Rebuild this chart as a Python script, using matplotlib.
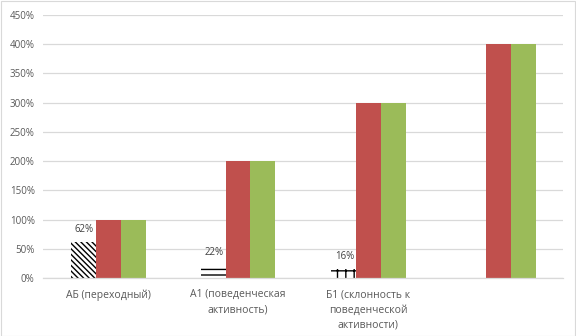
import matplotlib
matplotlib.use("Agg")
import matplotlib.pyplot as plt
import numpy as np

categories = ["АБ (переходный)", "А1 (поведенческая\nактивность)",
              "Б1 (склонность к\nповеденческой\nактивности)", ""]
series_pattern = [0.62, 0.22, 0.16, 0.0]
series_red = [1.0, 2.0, 3.0, 4.0]
series_green = [1.0, 2.0, 3.0, 4.0]
pattern_labels = ["62%", "22%", "16%", ""]
yticks = [0, 0.5, 1.0, 1.5, 2.0, 2.5, 3.0, 3.5, 4.0, 4.5]

plt.rcParams['font.family'] = ['Open Sans', 'DejaVu Sans']
plt.rcParams['hatch.linewidth'] = 1.0

fig = plt.figure(figsize=(5.76, 3.36), dpi=100)
ax = fig.add_axes([43/576, 1-278/336, 520/576, 263/336])

x = np.arange(len(categories))
w = 25/130
hatches = ['\\' * 6, '---', '++', '']
for i, v in enumerate(series_pattern):
    if v > 0:
        ax.bar(x[i] - w, v, w, facecolor='white', edgecolor='black',
               hatch=hatches[i], linewidth=0)
        ax.annotate(pattern_labels[i], (x[i] - w, v), xytext=(1, 5),
                    textcoords='offset points', ha='center', va='bottom',
                    fontsize=7, color='#404040')
ax.bar(x, series_red, w, color='#C0504D', linewidth=0)
ax.bar(x + w, series_green, w, color='#9BBB59', linewidth=0)

ax.set_xlim(-0.5, 3.5)
ax.set_ylim(0, 4.5)
ax.set_yticks(yticks)
ax.set_yticklabels([f"{int(round(t*100))}%" for t in yticks])
ax.set_xticks(x)
ax.set_xticklabels(categories, linespacing=1.55)
ax.tick_params(axis='both', length=0, labelsize=7, labelcolor='#595959')
ax.tick_params(axis='x', pad=8, labelsize=7.5)
ax.tick_params(axis='y', pad=6)
ax.yaxis.grid(True, color='#D9D9D9', linewidth=0.9)
ax.set_axisbelow(True)
for s in ['top', 'right', 'left']:
    ax.spines[s].set_visible(False)
ax.spines['bottom'].set_color('#D9D9D9')
ax.spines['bottom'].set_linewidth(0.9)

fig.patches.append(plt.Rectangle((0.001, 0.001), 0.998, 0.997, transform=fig.transFigure,
                                 fill=False, edgecolor='#D9D9D9', linewidth=0.8))

fig.savefig("out.png", dpi=100)
